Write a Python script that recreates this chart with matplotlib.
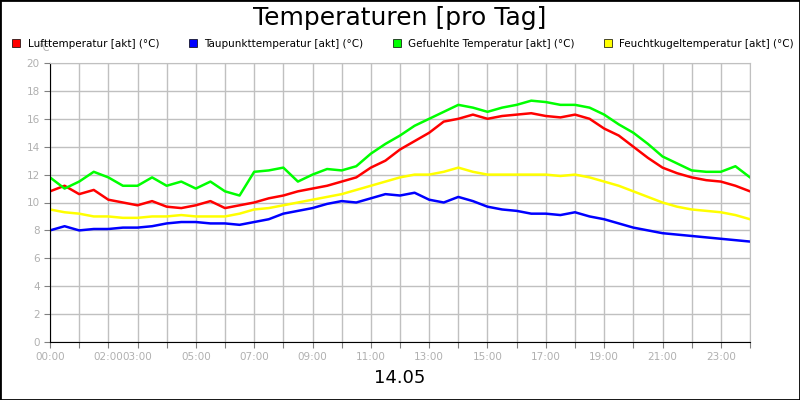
import matplotlib
matplotlib.use("Agg")
import matplotlib.pyplot as plt
from matplotlib.lines import Line2D
import numpy as np

# half-hour steps from 00:00 to 24:00
hours = np.arange(49) * 0.5
luft = [10.8, 11.2, 10.6, 10.9, 10.2, 10.0, 9.8, 10.1, 9.7, 9.6, 9.8, 10.1, 9.6, 9.8, 10.0, 10.3,
        10.5, 10.8, 11.0, 11.2, 11.5, 11.8, 12.5, 13.0, 13.8, 14.4, 15.0, 15.8, 16.0, 16.3, 16.0, 16.2,
        16.3, 16.4, 16.2, 16.1, 16.3, 16.0, 15.3, 14.8, 14.0, 13.2, 12.5, 12.1, 11.8, 11.6, 11.5, 11.2, 10.8]
tau = [8.0, 8.3, 8.0, 8.1, 8.1, 8.2, 8.2, 8.3, 8.5, 8.6, 8.6, 8.5, 8.5, 8.4, 8.6, 8.8,
       9.2, 9.4, 9.6, 9.9, 10.1, 10.0, 10.3, 10.6, 10.5, 10.7, 10.2, 10.0, 10.4, 10.1, 9.7, 9.5,
       9.4, 9.2, 9.2, 9.1, 9.3, 9.0, 8.8, 8.5, 8.2, 8.0, 7.8, 7.7, 7.6, 7.5, 7.4, 7.3, 7.2]
gef = [11.8, 11.0, 11.5, 12.2, 11.8, 11.2, 11.2, 11.8, 11.2, 11.5, 11.0, 11.5, 10.8, 10.5, 12.2, 12.3,
       12.5, 11.5, 12.0, 12.4, 12.3, 12.6, 13.5, 14.2, 14.8, 15.5, 16.0, 16.5, 17.0, 16.8, 16.5, 16.8,
       17.0, 17.3, 17.2, 17.0, 17.0, 16.8, 16.3, 15.6, 15.0, 14.2, 13.3, 12.8, 12.3, 12.2, 12.2, 12.6, 11.8]
feucht = [9.5, 9.3, 9.2, 9.0, 9.0, 8.9, 8.9, 9.0, 9.0, 9.1, 9.0, 9.0, 9.0, 9.2, 9.5, 9.6,
          9.8, 10.0, 10.2, 10.4, 10.6, 10.9, 11.2, 11.5, 11.8, 12.0, 12.0, 12.2, 12.5, 12.2, 12.0, 12.0,
          12.0, 12.0, 12.0, 11.9, 12.0, 11.8, 11.5, 11.2, 10.8, 10.4, 10.0, 9.7, 9.5, 9.4, 9.3, 9.1, 8.8]

series = [
    ("Lufttemperatur [akt] (°C)", luft, "#ff0000"),
    ("Taupunkttemperatur [akt] (°C)", tau, "#0000ff"),
    ("Gefuehlte Temperatur [akt] (°C)", gef, "#00ff00"),
    ("Feuchtkugeltemperatur [akt] (°C)", feucht, "#ffff00"),
]
tick_hours = [0, 2, 3, 5, 7, 9, 11, 13, 15, 17, 19, 21, 23]

fig = plt.figure(figsize=(8, 4), dpi=100)
fig.patches.append(plt.Rectangle((0, 0), 1, 1, transform=fig.transFigure,
                                 fill=False, edgecolor="black", linewidth=2))
ax = fig.add_axes([50 / 800, 58 / 400, 700 / 800, 279 / 400])

for label, vals, col in series:
    ax.plot(hours, vals, color=col, linewidth=1.8)

ax.set_xlim(0, 24)
ax.set_ylim(0, 20)
ax.set_xticks(range(25))
ax.set_xticklabels([f"{h:02d}:00" if h in tick_hours else "" for h in range(25)],
                   color="#b0b0b0", fontsize=7.5)
ax.set_yticks(range(0, 21, 2))
ax.set_yticklabels([str(v) for v in range(0, 21, 2)], color="#b0b0b0", fontsize=7.5)
ax.tick_params(length=4, color="#808080")
ax.grid(True, color="#c0c0c0", linewidth=1)
for s in ["top", "right"]:
    ax.spines[s].set_color("#c0c0c0")
ax.spines["left"].set_color("black")
ax.spines["bottom"].set_color("black")

fig.text(0.5, 1 - 18 / 400, "Temperaturen [pro Tag]", ha="center", va="center", fontsize=18)
fig.text(38 / 800, 1 - 48 / 400, "°C", ha="left", va="center", color="#b0b0b0", fontsize=7)
fig.text(0.5, 1 - 378 / 400, "14.05", ha="center", va="center", fontsize=13)

handles = [Line2D([], [], marker="s", linestyle="none", markersize=6, markerfacecolor=c,
                  markeredgecolor="black", markeredgewidth=0.5, label=l) for l, _, c in series]
fig.legend(handles=handles, loc="center", bbox_to_anchor=(400 / 800, 1 - 44 / 400), ncol=4,
           frameon=False, fontsize=7.5, handletextpad=0.1, columnspacing=2.2,
           borderpad=0, borderaxespad=0)

fig.savefig("out.png", dpi=100)
